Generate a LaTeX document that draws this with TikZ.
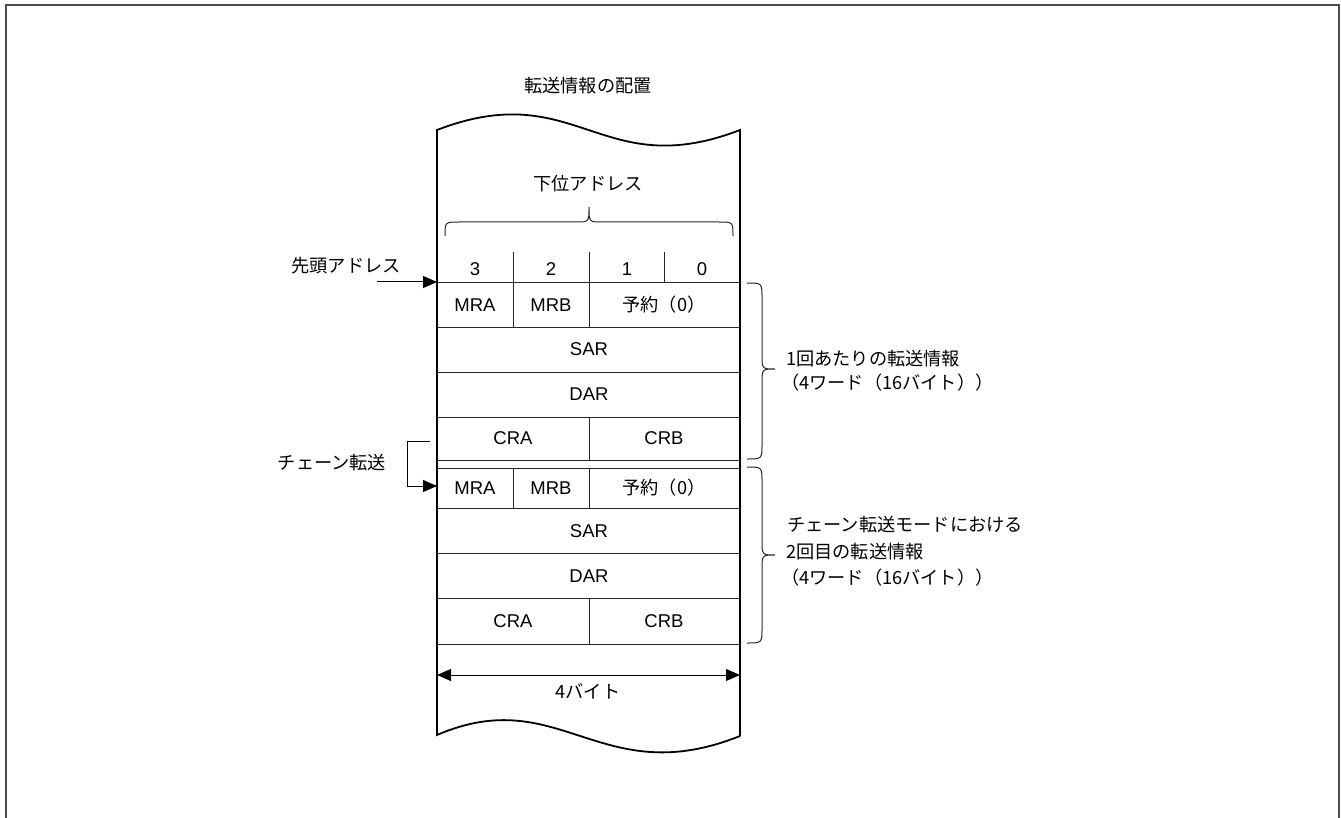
\documentclass[tikz,border=0pt]{standalone}
\usepackage{fontspec}
\setmainfont{Noto Sans CJK JP}
\newfontfamily\lat{Liberation Sans}
\usetikzlibrary{arrows.meta}
\begin{document}
\begin{tikzpicture}[x=1pt,y=-1pt,
  jp/.style={font=\fontsize{18.2}{22}\selectfont, inner sep=0pt},
  la/.style={font=\lat\fontsize{18.5}{22}\selectfont, inner sep=0pt},
  cell/.style={line width=1pt, draw=black!85},
  boxline/.style={line width=1.8pt, draw=black},
  tri/.tip={Triangle[length=14pt,width=12pt]},
  arr/.style={-{tri}, line width=1pt},
  brace/.style={line width=1pt, draw=black!85}]
\useasboundingbox (0,0) rectangle (1341,818);
% outer frame
\draw[line width=2pt, draw=black!70] (6,818) -- (6,5) -- (1339,5) -- (1339,818);

% title
\node[jp] (title) at (588,86) {転送情報の配置};

% memory strip
\draw[boxline] (740,736) -- (740,130) .. controls (600,184) and (577,76) .. (437,130) -- (437,735)
  .. controls (560,682) and (600,792) .. (740,736);

% lower address label and brace
\node[jp] (lowaddr) at (588,184) {下位アドレス};
\draw[brace] (445,236) .. controls (445,222) .. (459,222) -- (576,222)
  .. controls (589,222) .. (589,207) .. controls (589,222) .. (602,222) -- (719,222)
  .. controls (733,222) .. (733,236);

% header separators
\foreach \x in {513,589,664} \draw[cell] (\x,252) -- (\x,283);
\node[la] (d3) at (475,269) {3};
\node[la] (d2) at (551,269) {2};
\node[la] (d1) at (627,269) {1};
\node[la] (d0) at (702,269) {0};

% row lines
\foreach \y in {283,327,372,417,460,468,508,553,598,644} \draw[cell] (437,\y) -- (740,\y);
% verticals
\draw[cell] (513,283) -- (513,327);
\draw[cell] (589,283) -- (589,327);
\draw[cell] (589,417) -- (589,460);
\draw[cell] (513,468) -- (513,508);
\draw[cell] (589,468) -- (589,508);
\draw[cell] (589,598) -- (589,644);

% first block texts
\node[la] (mra1) at (475,305) {MRA};
\node[la] (mrb1) at (551,305) {MRB};
\node[jp] (rsv1) at (664,305) {予約（0）};
\node[la] (sar1) at (589,349) {SAR};
\node[la] (dar1) at (589,394) {DAR};
\node[la] (cra1) at (513,438) {CRA};
\node[la] (crb1) at (664,438) {CRB};
% second block texts
\node[la] (mra2) at (475,488) {MRA};
\node[la] (mrb2) at (551,488) {MRB};
\node[jp] (rsv2) at (664,488) {予約（0）};
\node[la] (sar2) at (589,531) {SAR};
\node[la] (dar2) at (589,576) {DAR};
\node[la] (cra2) at (513,621) {CRA};
\node[la] (crb2) at (664,621) {CRB};

% head address arrow
\node[jp] (head) at (346,266) {先頭アドレス};
\coordinate (hs) at (377,282);
\coordinate (he) at (437,282);
\draw[arr] (hs) -- (he);

% chain transfer arrow
\node[jp] (chain) at (332,463) {チェーン転送};
\coordinate (cs) at (430,441);
\coordinate (ce) at (437,486);
\draw[arr] (cs) -- (407,441) |- (ce);

% right braces
\draw[brace] (747,283) .. controls (762,283) .. (762,298) -- (762,354)
  .. controls (762,369) .. (775,369) .. controls (762,369) .. (762,384) -- (762,444)
  .. controls (762,459) .. (747,459);
\draw[brace] (747,467) .. controls (762,467) .. (762,482) -- (762,540)
  .. controls (762,555) .. (775,555) .. controls (762,555) .. (762,570) -- (762,628)
  .. controls (762,643) .. (747,643);

\node[jp, anchor=west] (info1a) at (786,359) {1回あたりの転送情報};
\node[jp, anchor=west] (info1b) at (781,383) {（4ワード（16バイト））};
\node[jp, anchor=west] (info2a) at (787,525) {チェーン転送モードにおける};
\node[jp, anchor=west] (info2b) at (786,552) {2回目の転送情報};
\node[jp, anchor=west] (info2c) at (781,578) {（4ワード（16バイト））};

% 4 bytes
\coordinate (bl) at (437,675);
\coordinate (br) at (740,675);
\draw[{tri}-{tri}, line width=1pt] (bl) -- (br);
\node[jp] (bytes) at (588,691) {4バイト};
\end{tikzpicture}
\end{document}
